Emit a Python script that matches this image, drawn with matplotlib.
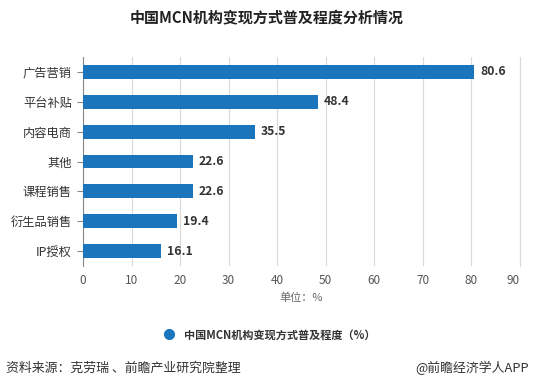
import matplotlib

matplotlib.use("Agg")
import matplotlib.pyplot as plt
from matplotlib.lines import Line2D

plt.rcParams["font.family"] = ["Noto Sans CJK SC", "DejaVu Sans"]

categories = ["广告营销", "平台补贴", "内容电商", "其他", "课程销售", "衍生品销售", "IP授权"]
values = [80.6, 48.4, 35.5, 22.6, 22.6, 19.4, 16.1]
xticks = [0, 10, 20, 30, 40, 50, 60, 70, 80, 90]

BLUE = "#1b75bc"

fig = plt.figure(figsize=(5.33, 3.88), dpi=100)
ax = fig.add_axes([0.1557, 0.3144, 0.8199, 0.5387])

ypos = list(range(len(categories)))
ax.barh(ypos, values, height=0.46, color=BLUE, zorder=3)
for y, v in zip(ypos, values):
    ax.text(v + 1.2, y, f"{v}", va="center", ha="left", fontsize=8.8,
            fontweight="bold", color="#333333")

ax.set_ylim(len(categories) - 0.5, -0.5)
ax.set_yticks(ypos)
ax.set_yticklabels(categories, fontsize=8.8, color="#333333")
ax.set_xlim(0, 90)
ax.set_xticks(xticks)
ax.set_xticklabels([str(t) for t in xticks], fontsize=8.5, color="#555555")
# the last tick label is pulled inside the plot edge, as in the original
ax.get_xticklabels()[-1].set_horizontalalignment("right")
ax.grid(axis="x", color="#d9d9d9", linewidth=0.8, zorder=0)
ax.axvline(90, color="#d9d9d9", linewidth=0.8, zorder=0, clip_on=False)
for s in ["top", "right", "bottom"]:
    ax.spines[s].set_visible(False)
ax.spines["left"].set_color("#888888")
ax.tick_params(axis="y", length=4, color="#888888", pad=4)
ax.tick_params(axis="x", length=0, pad=6)
ax.set_xlabel("单位：%", fontsize=8, color="#666666", labelpad=4)

fig.text(0.5, 0.955, "中国MCN机构变现方式普及程度分析情况", ha="center", va="center",
         fontsize=10.8, fontweight="bold", color="#222222")

handle = Line2D([], [], marker="o", linestyle="none", markersize=7,
                markerfacecolor=BLUE, markeredgecolor=BLUE)
fig.legend([handle], ["中国MCN机构变现方式普及程度（%）"], loc="center",
           bbox_to_anchor=(0.5, 0.137), frameon=False, handletextpad=0.3,
           prop={"size": 8, "weight": "bold"}, labelcolor="#333333")

fig.text(0.012, 0.052, "资料来源：克劳瑞 、前瞻产业研究院整理", ha="left", va="center",
         fontsize=9.3, color="#333333")
fig.text(0.993, 0.052, "@前瞻经济学人APP", ha="right", va="center",
         fontsize=9.3, color="#333333")

fig.savefig("out.png", dpi=100)
